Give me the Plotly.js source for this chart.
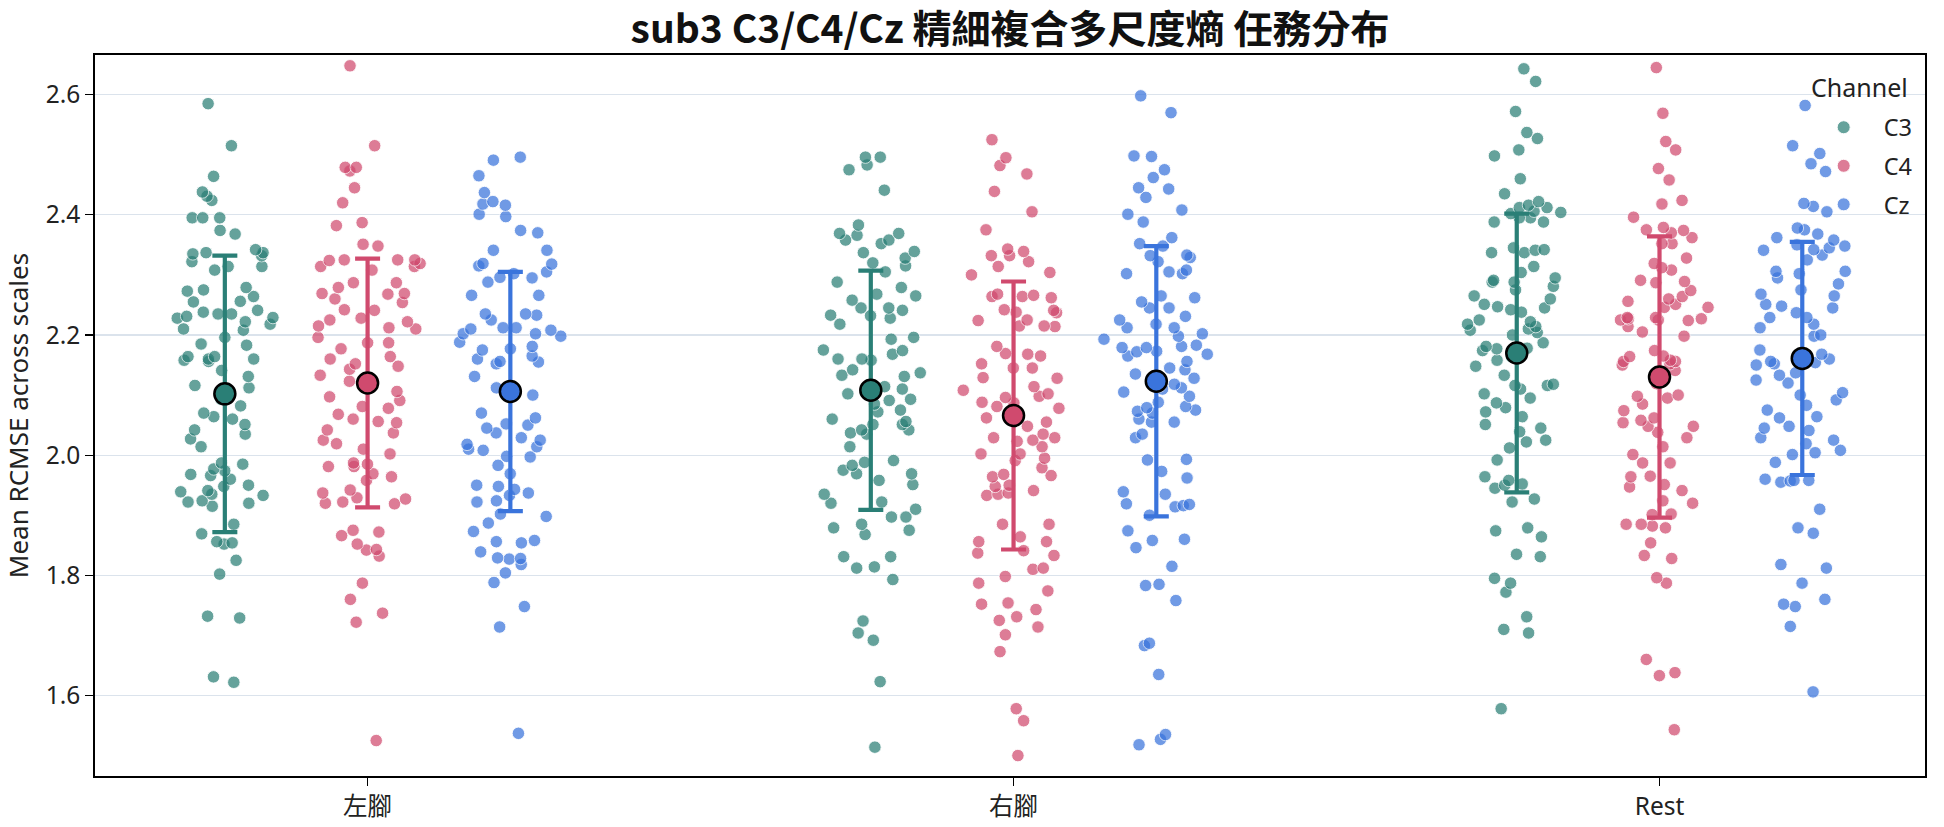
<!DOCTYPE html>
<html>
<head>
<meta charset="utf-8">
<script src="https://cdn.plot.ly/plotly-3.0.1.min.js"></script>
<style>html,body{margin:0;padding:0;background:#fff;}#chart{width:1944px;height:827px;}</style>
</head>
<body>
<div id="chart"></div>
<script>
// ---- data ----
const categories = ['左腳', '右腳', 'Rest'];
const channels = ['C3', 'C4', 'Cz'];

const c3_left = [2.585,2.515,2.464,2.438,2.431,2.424,2.395,2.395,2.395,2.374,2.368,2.337,2.342,2.337,2.332,2.335,2.322,2.314,2.314,2.308,2.279,2.275,2.273,2.264,2.256,2.255,2.241,2.238,2.235,2.231,2.235,2.229,2.228,2.218,2.222,2.210,2.208,2.196,2.183,2.185,2.164,2.164,2.160,2.158,2.156,2.160,2.141,2.131,2.116,2.112,2.093,2.082,2.070,2.064,2.060,2.051,2.042,2.035,2.027,2.014,1.987,1.985,1.977,1.974,1.968,1.966,1.960,1.950,1.948,1.941,1.939,1.935,1.933,1.922,1.924,1.920,1.915,1.885,1.869,1.856,1.854,1.852,1.825,1.802,1.732,1.729,1.631,1.622];
const c3_right = [2.496,2.496,2.483,2.475,2.441,2.383,2.369,2.369,2.366,2.358,2.358,2.352,2.339,2.337,2.328,2.320,2.315,2.305,2.288,2.279,2.268,2.265,2.258,2.245,2.245,2.241,2.233,2.232,2.228,2.218,2.196,2.193,2.175,2.174,2.168,2.160,2.158,2.160,2.142,2.137,2.133,2.131,2.114,2.110,2.102,2.093,2.091,2.085,2.075,2.072,2.060,2.056,2.051,2.051,2.042,2.042,2.037,2.035,2.014,1.988,1.991,1.983,1.975,1.969,1.969,1.958,1.951,1.935,1.922,1.920,1.910,1.897,1.897,1.885,1.879,1.875,1.868,1.831,1.831,1.812,1.814,1.793,1.724,1.704,1.692,1.623,1.514];
const c3_rest = [2.643,2.622,2.572,2.537,2.527,2.508,2.498,2.460,2.435,2.422,2.412,2.412,2.416,2.406,2.404,2.402,2.395,2.395,2.388,2.388,2.345,2.342,2.337,2.341,2.337,2.314,2.304,2.295,2.291,2.288,2.288,2.281,2.275,2.265,2.260,2.251,2.247,2.245,2.242,2.238,2.225,2.222,2.218,2.214,2.210,2.208,2.204,2.200,2.187,2.181,2.178,2.177,2.174,2.164,2.158,2.148,2.133,2.118,2.116,2.116,2.110,2.102,2.095,2.087,2.079,2.072,2.064,2.051,2.045,2.039,2.025,2.022,2.012,1.992,1.964,1.958,1.952,1.950,1.945,1.927,1.922,1.879,1.874,1.864,1.835,1.831,1.795,1.787,1.772,1.731,1.710,1.704,1.578];

const c4_left = [2.648,2.515,2.479,2.479,2.473,2.445,2.420,2.387,2.382,2.351,2.348,2.325,2.319,2.314,2.314,2.325,2.325,2.324,2.308,2.287,2.287,2.279,2.269,2.269,2.268,2.260,2.254,2.242,2.241,2.228,2.225,2.222,2.215,2.212,2.210,2.196,2.187,2.187,2.177,2.164,2.160,2.152,2.148,2.143,2.133,2.123,2.122,2.106,2.097,2.091,2.081,2.078,2.068,2.060,2.056,2.054,2.042,2.037,2.025,2.019,2.010,2.002,1.987,1.985,1.981,1.981,1.969,1.964,1.958,1.942,1.937,1.929,1.927,1.922,1.920,1.919,1.875,1.872,1.866,1.852,1.843,1.842,1.832,1.787,1.760,1.737,1.722,1.525];
const c4_right = [2.525,2.495,2.482,2.468,2.439,2.405,2.375,2.343,2.339,2.332,2.332,2.322,2.314,2.304,2.300,2.266,2.264,2.264,2.262,2.268,2.242,2.241,2.238,2.237,2.225,2.224,2.215,2.215,2.214,2.181,2.168,2.169,2.165,2.152,2.145,2.145,2.129,2.128,2.114,2.108,2.102,2.098,2.096,2.088,2.087,2.081,2.078,2.062,2.055,2.048,2.035,2.029,2.029,2.023,2.025,2.014,2.002,2.002,1.995,1.991,1.979,1.968,1.966,1.964,1.950,1.948,1.941,1.937,1.935,1.933,1.885,1.885,1.864,1.856,1.856,1.841,1.837,1.833,1.810,1.812,1.798,1.787,1.774,1.754,1.752,1.743,1.731,1.725,1.714,1.701,1.673,1.578,1.558,1.500];
const c4_rest = [2.645,2.569,2.522,2.508,2.477,2.458,2.424,2.418,2.396,2.375,2.379,2.374,2.370,2.362,2.352,2.352,2.328,2.319,2.312,2.308,2.291,2.289,2.287,2.274,2.264,2.260,2.256,2.251,2.246,2.246,2.229,2.227,2.227,2.225,2.225,2.224,2.229,2.214,2.205,2.198,2.174,2.165,2.164,2.158,2.156,2.156,2.152,2.150,2.141,2.119,2.100,2.098,2.095,2.085,2.074,2.062,2.058,2.054,2.048,2.048,2.038,2.029,2.014,2.001,1.987,1.987,1.965,1.964,1.951,1.947,1.941,1.924,1.920,1.902,1.901,1.885,1.885,1.882,1.879,1.854,1.833,1.828,1.796,1.787,1.660,1.638,1.633,1.543];

const cz_left = [2.496,2.491,2.465,2.437,2.422,2.418,2.416,2.401,2.397,2.374,2.370,2.341,2.341,2.319,2.318,2.315,2.305,2.302,2.296,2.295,2.288,2.266,2.266,2.235,2.235,2.233,2.225,2.212,2.212,2.210,2.208,2.202,2.202,2.198,2.188,2.181,2.177,2.175,2.165,2.160,2.156,2.155,2.152,2.131,2.112,2.108,2.100,2.070,2.062,2.052,2.050,2.045,2.037,2.029,2.025,2.018,2.014,2.010,2.008,1.998,1.997,1.983,1.969,1.950,1.948,1.943,1.937,1.933,1.924,1.922,1.902,1.898,1.887,1.873,1.858,1.856,1.854,1.839,1.829,1.828,1.827,1.818,1.804,1.788,1.748,1.714,1.537];
const cz_right = [2.598,2.570,2.497,2.498,2.475,2.462,2.443,2.445,2.429,2.408,2.401,2.388,2.362,2.348,2.352,2.333,2.332,2.329,2.322,2.308,2.305,2.302,2.302,2.265,2.262,2.255,2.245,2.245,2.231,2.225,2.218,2.212,2.212,2.202,2.198,2.193,2.183,2.181,2.179,2.179,2.173,2.172,2.168,2.165,2.156,2.145,2.142,2.135,2.128,2.118,2.115,2.112,2.110,2.105,2.098,2.088,2.081,2.079,2.075,2.073,2.070,2.060,2.055,2.055,2.035,2.029,1.993,1.992,1.973,1.962,1.939,1.935,1.919,1.918,1.916,1.914,1.900,1.874,1.860,1.858,1.846,1.815,1.785,1.783,1.758,1.687,1.683,1.635,1.535,1.527,1.518];
const cz_rest = [2.582,2.515,2.502,2.485,2.472,2.419,2.414,2.405,2.378,2.375,2.368,2.362,2.358,2.350,2.348,2.345,2.342,2.341,2.333,2.325,2.306,2.306,2.302,2.295,2.285,2.275,2.268,2.265,2.251,2.248,2.245,2.237,2.229,2.229,2.218,2.212,2.198,2.200,2.175,2.168,2.164,2.160,2.156,2.154,2.152,2.150,2.137,2.133,2.125,2.120,2.104,2.100,2.092,2.083,2.075,2.064,2.062,2.048,2.045,2.041,2.029,2.025,2.019,2.008,2.004,2.001,1.988,1.960,1.958,1.955,1.957,1.958,1.910,1.879,1.870,1.818,1.812,1.787,1.760,1.752,1.748,1.715,1.606];

// mean and SD per task (as drawn in the reference)
const meanC3 = [2.102, 2.108, 2.170];
const sdC3   = [0.230, 0.199, 0.232];
const meanC4 = [2.120, 2.066, 2.130];
const sdC4   = [0.207, 0.223, 0.234];
const meanCz = [2.106, 2.123, 2.161];
const sdCz   = [0.199, 0.225, 0.194];

// ---- styling ----
const pointColors = {C3: '#2a7f76', C4: '#d04a6e', Cz: '#3a74dc'};
const FONT = 'Noto Sans, Noto Sans CJK TC, sans-serif';

const pointsBy = {
  C3: [c3_left, c3_right, c3_rest],
  C4: [c4_left, c4_right, c4_rest],
  Cz: [cz_left, cz_right, cz_rest]
};
const meansBy = {C3: meanC3, C4: meanC4, Cz: meanCz};
const sdBy = {C3: sdC3, C4: sdC4, Cz: sdCz};

const traces = [];
channels.forEach(ch => {
  const xs = [], ys = [];
  pointsBy[ch].forEach((arr, i) => arr.forEach(v => { xs.push(categories[i]); ys.push(v); }));
  traces.push({
    type: 'box', name: ch, x: xs, y: ys, offsetgroup: ch, showlegend: false,
    boxpoints: 'all', jitter: 0.85, pointpos: 0,
    line: {width: 0, color: 'rgba(0,0,0,0)'}, fillcolor: 'rgba(0,0,0,0)', whiskerwidth: 0,
    marker: {color: pointColors[ch], size: 12.5, opacity: 0.72, line: {color: 'white', width: 0.9}},
    hoveron: 'points'
  });
});
channels.forEach(ch => {
  traces.push({
    type: 'scatter', mode: 'markers', name: ch + ' mean', x: categories, y: meansBy[ch],
    offsetgroup: ch, showlegend: false,
    marker: {color: pointColors[ch], size: 21, line: {color: 'black', width: 2.5}},
    error_y: {type: 'data', array: sdBy[ch], visible: true, color: pointColors[ch], thickness: 4.2, width: 12.5}
  });
});
// legend entries
channels.forEach(ch => {
  traces.push({
    type: 'scatter', mode: 'markers', name: ch, x: [null], y: [null], offsetgroup: ch,
    legendgroup: ch, showlegend: true,
    marker: {color: pointColors[ch], size: 13, opacity: 0.72, line: {color: 'white', width: 0.9}}
  });
});

const layout = {
  width: 1944, height: 827,
  paper_bgcolor: 'white', plot_bgcolor: 'white',
  margin: {l: 95, r: 19, t: 55, b: 51},
  font: {family: FONT, size: 24, color: '#222'},
  title: {text: 'sub3 C3/C4/Cz 精細複合多尺度熵 任務分布', x: 0.5, xref: 'paper', y: 0.964, yref: 'container', yanchor: 'middle',
          font: {family: 'Noto Sans CJK TC, sans-serif', size: 39, color: '#111', weight: 'bold'}},
  boxmode: 'group', boxgap: 0.337, boxgroupgap: 0,
  scattermode: 'group', scattergap: 0.337,
  xaxis: {type: 'category', categoryorder: 'array', categoryarray: categories,
          range: [-0.422, 2.411], showgrid: false, zeroline: false,
          showline: true, linecolor: 'black', linewidth: 1.8, mirror: true,
          ticks: 'outside', ticklen: 8, tickwidth: 1.3, tickcolor: 'black',
          tickfont: {family: FONT, size: 24.5, color: '#222'}},
  yaxis: {range: [1.466, 2.666], tickvals: [1.6, 1.8, 2.0, 2.2, 2.4, 2.6], ticktext: ['1.6','1.8','2.0','2.2','2.4','2.6'],
          showgrid: true, gridcolor: '#dbe3ec', gridwidth: 1.3, zeroline: false,
          showline: true, linecolor: 'black', linewidth: 1.8, mirror: true,
          ticks: 'outside', ticklen: 8, tickwidth: 1.3, tickcolor: 'black',
          tickfont: {family: FONT, size: 24.5, color: '#222'},
          title: {text: 'Mean RCMSE across scales', standoff: 11, font: {family: FONT, size: 26, color: '#222'}}},
  legend: {x: 0.996, xanchor: 'right', y: 0.93, yanchor: 'top', bgcolor: 'rgba(0,0,0,0)',
           font: {family: FONT, size: 23.5, color: '#222'}, traceorder: 'grouped', tracegroupgap: 5, itemwidth: 70},
  annotations: [{text: 'Channel', xref: 'paper', yref: 'paper', x: 0.992, xanchor: 'right', y: 0.955, yanchor: 'middle',
                 showarrow: false, font: {family: FONT, size: 25, color: '#222'}}],
  showlegend: true
};

Plotly.newPlot('chart', traces, layout, {displayModeBar: false, staticPlot: true});
</script>
</body>
</html>
